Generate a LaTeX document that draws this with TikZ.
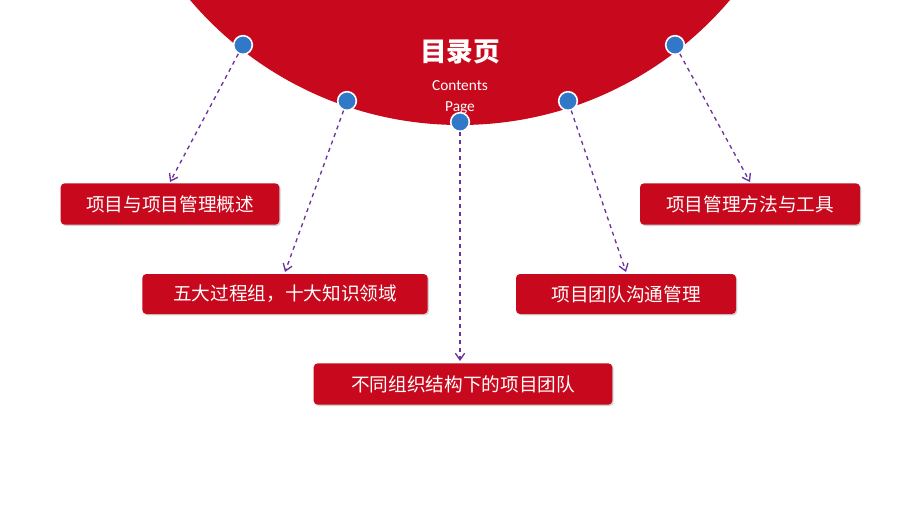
\documentclass[tikz,border=0pt]{standalone}
\usepackage{fontspec}
\setmainfont{Carlito}
\newfontfamily\cjk{Noto Sans CJK SC}
\usetikzlibrary{shadows,arrows.meta}
\definecolor{myred}{RGB}{200,8,28}
\definecolor{mydot}{RGB}{50,120,200}
\definecolor{mypurple}{RGB}{110,50,160}
\tikzset{
 topic/.style={draw=none,fill=myred,rounded corners=3pt,text=white,font=\cjk\fontsize{14}{16}\selectfont,inner sep=0pt,drop shadow={opacity=0.35,shadow xshift=1pt,shadow yshift=-1pt}},
 dot/.style={circle,fill=mydot,draw=white,line width=1.2pt,minimum size=14pt,inner sep=0pt},
 link/.style={mypurple,dashed,line width=1pt,-{Straight Barb[length=5pt,width=7pt]}}
}
\begin{document}
\begin{tikzpicture}[x=0.75pt,y=-0.75pt]
\useasboundingbox (0,0) rectangle (920,518);
\fill[white] (0,0) rectangle (920,518);
\begin{scope}
\clip (0,0) rectangle (920,518);
\fill[myred] (460,-229) circle[radius=354];
\end{scope}
\node[text=white,font=\cjk\bfseries\fontsize{20}{22}\selectfont] (title) at (460,52) {目录页};
\node[text=white,font=\fontsize{11.5}{13}\selectfont] (c1) at (460,86) {Contents};
\node[text=white,font=\fontsize{11.5}{13}\selectfont] (c2) at (460,108) {Page};
\node[dot] (d1) at (243,45) {};
\node[dot] (d2) at (347,101) {};
\node[dot] (d3) at (460,122) {};
\node[dot] (d4) at (568,101) {};
\node[dot] (d5) at (675,45) {};
\node[topic,minimum width=164pt,minimum height=31pt] (b1) at (170,204) {项目与项目管理概述};
\node[topic,minimum width=214pt,minimum height=30pt] (b2) at (285,294) {五大过程组，十大知识领域};
\node[topic,minimum width=224pt,minimum height=31pt] (b3) at (463,384) {不同组织结构下的项目团队};
\node[topic,minimum width=165pt,minimum height=30pt] (b4) at (626,294) {项目团队沟通管理};
\node[topic,minimum width=165pt,minimum height=31pt] (b5) at (750,204) {项目管理方法与工具};
\draw[link] (d1) -- (170,182);
\draw[link] (d2) -- (285,272);
\draw[link] (d3) -- (460,361);
\draw[link] (d4) -- (626,272);
\draw[link] (d5) -- (750,182);
\end{tikzpicture}
\end{document}
